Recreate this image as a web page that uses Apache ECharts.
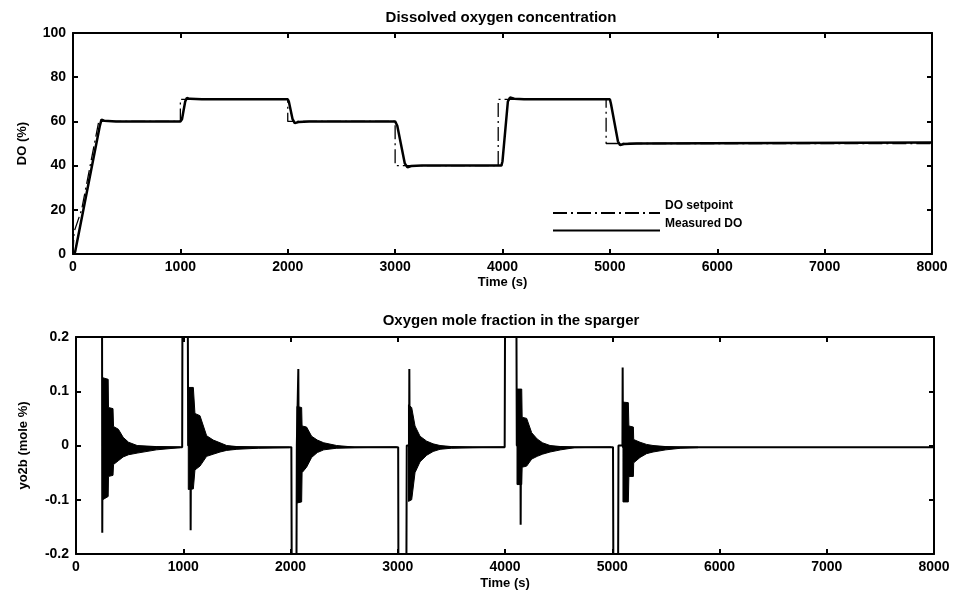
<!DOCTYPE html>
<html><head><meta charset="utf-8">
<script src="https://cdn.jsdelivr.net/npm/echarts@6/dist/echarts.min.js"></script>
<style>html,body{margin:0;padding:0;background:#fff}#c{width:960px;height:595px}</style>
</head><body><div id="c"></div>
<script>
// ---- top chart: dissolved oxygen (%) ----
var spT = [0, 10, 80, 240, 1000, 1000, 2000, 2000, 3000, 3000, 3960, 3960, 4965, 4965, 8000];
var spV = [0, 10, 20, 60, 60, 70, 70, 60, 60, 40, 40, 70, 70, 50, 50];
var doT = [0, 20, 250, 265, 290, 400, 1000, 1015, 1045, 1060, 1090, 1200, 2000, 2010, 2045, 2065, 2100, 2200, 3000, 3020, 3090, 3115, 3150, 3250, 3990, 4000, 4050, 4070, 4110, 4200, 5000, 5010, 5075, 5095, 5130, 5250, 8000];
var doV = [0, 1, 58, 60.8, 60.3, 60, 60, 61, 69, 70.6, 70.2, 70, 70, 69, 61, 59.2, 59.7, 60, 60, 58, 41, 39.2, 39.8, 40, 40, 42, 69, 70.8, 70.3, 70, 70, 68, 51, 49.3, 49.8, 50, 50.4];

// ---- bottom chart: oxygen mole fraction (mole %) ----
var yoT = [0, 243, 245, 247, 990, 992, 1043, 1046, 1067, 1069, 1072, 2008, 2011, 2056, 2059, 2071, 2073, 2076, 3004, 3006, 3081, 3084, 3106, 3108, 3111, 3997, 4000, 4107, 4110, 4144, 4146, 4149, 5007, 5010, 5055, 5058, 5095, 5097, 5100, 8000];
var yoV = [0.2, 0.2, -0.161, -0.003, -0.003, 0.2, 0.2, 0.0, 0.0, -0.156, -0.003, -0.003, -0.2, -0.2, 0.0, 0.0, 0.141, -0.003, -0.003, -0.2, -0.2, 0.0, 0.0, 0.141, -0.003, -0.003, 0.2, 0.2, 0.0, 0.0, -0.146, -0.003, -0.003, -0.2, -0.2, 0.0, 0.0, 0.144, -0.003, -0.003];

// oscillation envelopes after each setpoint change
var burst1T = [248, 300, 303, 345, 350, 395, 440, 490, 570, 750, 970];
var burst1U = [0.125, 0.122, 0.07, 0.068, 0.035, 0.03, 0.015, 0.006, 0.0, -0.002, -0.003];
var burst1L = [-0.10, -0.094, -0.057, -0.055, -0.035, -0.028, -0.021, -0.017, -0.014, -0.008, -0.004];
var burst2T = [1047, 1094, 1109, 1156, 1218, 1280, 1343, 1405, 1500, 1700, 1990];
var burst2U = [0.107, 0.107, 0.059, 0.055, 0.018, 0.01, 0.005, 0.0, -0.002, -0.003, -0.003];
var burst2L = [-0.081, -0.08, -0.045, -0.038, -0.02, -0.016, -0.012, -0.009, -0.007, -0.005, -0.004];
var burst3T = [2060, 2104, 2108, 2150, 2197, 2250, 2310, 2430, 2600, 2990];
var burst3U = [0.072, 0.07, 0.036, 0.034, 0.017, 0.01, 0.005, 0.0, -0.003, -0.003];
var burst3L = [-0.106, -0.104, -0.05, -0.04, -0.022, -0.013, -0.008, -0.005, -0.004, -0.003];
var burst4T = [3100, 3130, 3161, 3208, 3270, 3330, 3394, 3500, 3700, 3990];
var burst4U = [0.075, 0.07, 0.036, 0.017, 0.008, 0.003, 0.0, -0.002, -0.003, -0.003];
var burst4L = [-0.103, -0.1, -0.05, -0.03, -0.018, -0.011, -0.007, -0.005, -0.004, -0.003];
var burst5T = [4112, 4156, 4160, 4202, 4249, 4300, 4350, 4420, 4520, 4650, 4990];
var burst5U = [0.104, 0.104, 0.052, 0.05, 0.0235, 0.012, 0.005, 0.0, -0.002, -0.003, -0.003];
var burst5L = [-0.072, -0.072, -0.04, -0.038, -0.025, -0.02, -0.016, -0.012, -0.008, -0.004, -0.003];
var burst6T = [5100, 5150, 5155, 5197, 5200, 5259, 5320, 5380, 5500, 5640, 5800];
var burst6U = [0.08, 0.079, 0.036, 0.034, 0.011, 0.006, 0.002, 0.0, -0.002, -0.003, -0.003];
var burst6L = [-0.104, -0.104, -0.057, -0.057, -0.032, -0.022, -0.015, -0.012, -0.008, -0.005, -0.004];

var xTicksMax = 8000;
var topTitle = 'Dissolved oxygen concentration';
var botTitle = 'Oxygen mole fraction in the sparger';

var bursts = [
  [burst1T, burst1U, burst1L], [burst2T, burst2U, burst2L], [burst3T, burst3U, burst3L],
  [burst4T, burst4U, burst4L], [burst5T, burst5U, burst5L], [burst6T, burst6U, burst6L]
];
function pairs(t, v) { return t.map(function (x, i) { return [x, v[i]]; }); }

var FONT = 'Liberation Sans';
var lbl = { color: '#000', fontFamily: FONT, fontWeight: 'bold', fontSize: 13 };
var tickLbl = Object.assign({}, lbl, { fontSize: 14 });
var axLine = { onZero: false, lineStyle: { color: '#000', width: 2 } };
var tick = { inside: true, length: 5, lineStyle: { color: '#000', width: 2 } };

function xAx(gi, pos, showLabel) {
  return {
    type: 'value', gridIndex: gi, position: pos, min: 0, max: xTicksMax, interval: 1000,
    axisLine: axLine, axisTick: tick, splitLine: { show: false },
    axisLabel: Object.assign({ show: showLabel, margin: 6, formatter: function (v) { return String(v); } }, tickLbl),
    name: showLabel ? 'Time (s)' : '', nameLocation: 'middle', nameGap: gi === 0 ? 22 : 23,
    nameTextStyle: lbl
  };
}
function yAx(gi, pos, showLabel, mn, mx, iv, nm, gap, fmt) {
  return {
    type: 'value', gridIndex: gi, position: pos, min: mn, max: mx, interval: iv,
    axisLine: axLine, axisTick: tick, splitLine: { show: false },
    axisLabel: Object.assign({ show: showLabel, margin: 7, formatter: fmt || function (v) { return String(v); } }, tickLbl),
    name: showLabel ? nm : '', nameLocation: 'middle', nameRotate: 90, nameGap: gap,
    nameTextStyle: lbl
  };
}

var chart = echarts.init(document.getElementById('c'), null, { renderer: 'canvas' });
chart.setOption({
  backgroundColor: '#fff',
  animation: false,
  title: [
    { text: topTitle, left: 496, top: 5, textAlign: 'center', textStyle: Object.assign({}, lbl, { fontSize: 15 }) },
    { text: botTitle, left: 506, top: 308, textAlign: 'center', textStyle: Object.assign({}, lbl, { fontSize: 15 }) }
  ],
  legend: {
    orient: 'vertical', left: 547, top: 195, itemWidth: 107, itemHeight: 14, itemGap: -1,
    data: ['DO setpoint', 'Measured DO'],
    itemStyle: { opacity: 0 },
    formatter: function (name) { return '{a|' + name + '}'; },
    textStyle: Object.assign({}, lbl, {
      fontSize: 12,
      rich: { a: { color: '#000', fontFamily: FONT, fontWeight: 'bold', fontSize: 12, padding: [0, 0, 14, 0] } }
    })
  },
  grid: [
    { left: 73, right: 28, top: 33, bottom: 341 },
    { left: 76, right: 26, top: 337, bottom: 41 }
  ],
  xAxis: [xAx(0, 'bottom', true), xAx(0, 'top', false), xAx(1, 'bottom', true), xAx(1, 'top', false)],
  yAxis: [
    yAx(0, 'left', true, 0, 100, 20, 'DO (%)', 44),
    yAx(0, 'right', false, 0, 100, 20, '', 0),
    yAx(1, 'left', true, -0.2, 0.2, 0.1, 'yo2b (mole %)', 46, function (v) { return v === 0 ? '0' : v.toFixed(1); }),
    yAx(1, 'right', false, -0.2, 0.2, 0.1, '', 0)
  ],
  series: [
    {
      name: 'Measured DO', type: 'line', xAxisIndex: 0, yAxisIndex: 0, showSymbol: false, symbol: 'none',
      data: pairs(doT, doV), lineStyle: { color: '#000', width: 2.5 }, itemStyle: { color: '#000' }
    },
    {
      name: 'DO setpoint', type: 'line', xAxisIndex: 0, yAxisIndex: 0, showSymbol: false, symbol: 'none',
      data: pairs(spT, spV), lineStyle: { color: '#000', width: 1.3, type: [14, 4, 2, 4] }, itemStyle: { color: '#000' }, z: 3
    },
    {
      name: 'envelope', type: 'custom', xAxisIndex: 2, yAxisIndex: 2,
      data: bursts.map(function (b, i) { return [b[0][0], 0, i]; }),
      encode: { x: 0, y: 1 },
      renderItem: function (params, api) {
        var b = bursts[api.value(2)];
        var pts = [];
        for (var i = 0; i < b[0].length; i++) pts.push(api.coord([b[0][i], b[1][i]]));
        for (var j = b[0].length - 1; j >= 0; j--) pts.push(api.coord([b[0][j], b[2][j]]));
        return { type: 'polygon', shape: { points: pts }, style: { fill: '#000', stroke: '#000', lineWidth: 1 } };
      },
      z: 2
    },
    {
      name: 'yo2b', type: 'line', xAxisIndex: 2, yAxisIndex: 2, showSymbol: false, symbol: 'none',
      data: pairs(yoT, yoV), lineStyle: { color: '#000', width: 2 }, clip: true, z: 3
    }
  ]
});
</script></body></html>
